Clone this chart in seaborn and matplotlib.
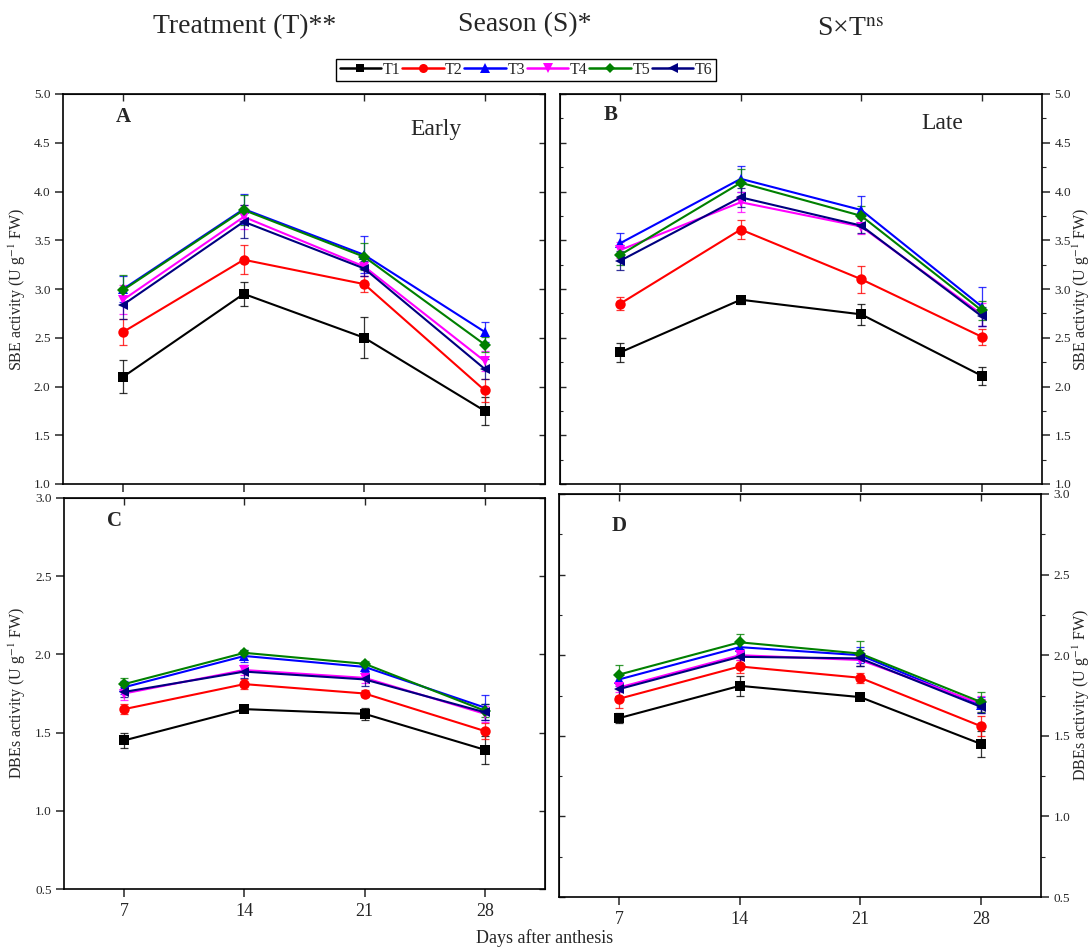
import numpy as np
import pandas as pd
import matplotlib
matplotlib.use("Agg")
import matplotlib.pyplot as plt
import seaborn as sns
from matplotlib.lines import Line2D
from matplotlib.ticker import MultipleLocator

# x values and treatments
days = [7, 14, 21, 28]
treatments = ["T1", "T2", "T3", "T4", "T5", "T6"]

# SBE activity, early season (A); rows = T1..T6, columns = days
sbe_early = [[2.10, 2.95, 2.50, 1.75],
             [2.56, 3.30, 3.05, 1.96],
             [3.00, 3.82, 3.35, 2.56],
             [2.89, 3.74, 3.23, 2.26],
             [2.99, 3.81, 3.33, 2.43],
             [2.84, 3.69, 3.21, 2.18]]
sbe_early_err = [[0.17, 0.12, 0.21, 0.14],
                 [0.13, 0.15, 0.08, 0.12],
                 [0.13, 0.15, 0.19, 0.10],
                 [0.15, 0.12, 0.10, 0.10],
                 [0.15, 0.15, 0.14, 0.08],
                 [0.15, 0.17, 0.08, 0.10]]

# SBE activity, late season (B)
sbe_late = [[2.35, 2.89, 2.74, 2.11],
            [2.85, 3.61, 3.10, 2.51],
            [3.47, 4.13, 3.81, 2.82],
            [3.40, 3.89, 3.64, 2.74],
            [3.35, 4.09, 3.75, 2.78],
            [3.29, 3.94, 3.65, 2.72]]
sbe_late_err = [[0.10, 0.04, 0.11, 0.09],
                [0.07, 0.10, 0.14, 0.08],
                [0.10, 0.13, 0.14, 0.20],
                [0.08, 0.10, 0.08, 0.12],
                [0.10, 0.14, 0.10, 0.10],
                [0.10, 0.10, 0.08, 0.10]]

# DBEs activity, early season (C)
dbe_early = [[1.45, 1.65, 1.62, 1.39],
             [1.65, 1.81, 1.75, 1.51],
             [1.79, 1.99, 1.92, 1.66],
             [1.75, 1.90, 1.85, 1.62],
             [1.81, 2.01, 1.94, 1.64],
             [1.76, 1.89, 1.84, 1.63]]
dbe_early_err = [[0.05, 0.02, 0.04, 0.09],
                 [0.03, 0.03, 0.02, 0.05],
                 [0.04, 0.04, 0.03, 0.08],
                 [0.04, 0.03, 0.03, 0.05],
                 [0.04, 0.02, 0.02, 0.04],
                 [0.03, 0.04, 0.04, 0.05]]

# DBEs activity, late season (D)
dbe_late = [[1.61, 1.81, 1.74, 1.45],
            [1.73, 1.93, 1.86, 1.56],
            [1.85, 2.05, 2.00, 1.69],
            [1.80, 2.00, 1.97, 1.70],
            [1.88, 2.08, 2.01, 1.71],
            [1.79, 1.99, 1.98, 1.68]]
dbe_late_err = [[0.03, 0.06, 0.02, 0.08],
                [0.06, 0.04, 0.03, 0.06],
                [0.04, 0.04, 0.05, 0.05],
                [0.03, 0.03, 0.04, 0.05],
                [0.06, 0.05, 0.08, 0.06],
                [0.04, 0.05, 0.05, 0.04]]

colors = {"T1": "black", "T2": "#ff0000", "T3": "#0000ff",
          "T4": "#ff00ff", "T5": "#008000", "T6": "#000080"}
markers = {"T1": "s", "T2": "o", "T3": "^", "T4": "v", "T5": "D", "T6": "<"}
msize = {"T1": 7, "T2": 7.5, "T3": 7.5, "T4": 7.5, "T5": 6, "T6": 7.5}

panels = {"A": (sbe_early, sbe_early_err), "B": (sbe_late, sbe_late_err),
          "C": (dbe_early, dbe_early_err), "D": (dbe_late, dbe_late_err)}

rows = []
for key, (means, errs) in panels.items():
    for i, t in enumerate(treatments):
        for j, d in enumerate(days):
            rows.append({"panel": key, "treatment": t, "day": d,
                         "value": means[i][j], "err": errs[i][j]})
df = pd.DataFrame(rows)

sns.set_style("ticks")
plt.rcParams["font.family"] = ["Liberation Serif", "DejaVu Serif"]
plt.rcParams["mathtext.fontset"] = "stix"

W, H = 1091, 949
fig = plt.figure(figsize=(W / 100, H / 100), dpi=100)


def box(l, r, t, b):
    return [l / W, 1 - b / H, (r - l) / W, (b - t) / H]


axes = {
    "A": fig.add_axes(box(63, 545, 94, 484)),
    "B": fig.add_axes(box(560, 1042, 94, 484)),
    "C": fig.add_axes(box(64, 545, 498, 889)),
    "D": fig.add_axes(box(559, 1041, 494, 897)),
}
# anchor of the y labels in pixels (left labels grow leftwards, right ones rightwards)
label_x = {"A": 28, "B": 1071, "C": 28, "D": 1071}

sbe_label = "SBE activity (U g$^{-1}$ FW)"
dbe_label = "DBEs activity (U g$^{-1}$ FW)"

for key, ax in axes.items():
    sub = df[df["panel"] == key]
    for t in treatments:
        s = sub[sub["treatment"] == t]
        ax.errorbar(s["day"], s["value"], yerr=s["err"], fmt="none",
                    ecolor=colors[t], elinewidth=0.9, capsize=3,
                    capthick=0.9, zorder=2, alpha=0.8)
    for t in treatments:
        s = sub[sub["treatment"] == t]
        sns.lineplot(data=s, x="day", y="value", color=colors[t],
                     marker=markers[t], markersize=msize[t],
                     markeredgewidth=0, linewidth=1.5, errorbar=None,
                     legend=False, ax=ax, zorder=3)

    ax.set_xlim(3.5, 31.5)
    ax.set_xticks(days)
    ax.set_xlabel("")
    for sp in ax.spines.values():
        sp.set_visible(True)
        sp.set_linewidth(1.2)
        sp.set_color("black")

    top = key in ("A", "B")
    if top:
        ax.set_ylim(1.0, 5.0)
        ax.tick_params(axis="x", labelbottom=False, direction="out", length=6, width=1.1)
    else:
        ax.set_ylim(0.5, 3.0)
        ax.set_xticklabels([str(d) for d in days])
        ax.tick_params(axis="x", labelsize=13, direction="out", length=6, width=1.1, pad=4)
    ax.yaxis.set_major_locator(MultipleLocator(0.5))

    right = key in ("B", "D")
    ax.tick_params(axis="y", which="both", direction="out", labelsize=9.5, pad=3)
    ax.tick_params(axis="y", which="major", length=6, width=1.1)
    ax.tick_params(axis="y", which="minor", length=3, width=0.8)
    if right:
        ax.yaxis.set_minor_locator(MultipleLocator(0.25))
        ax.yaxis.tick_right()
        ax.yaxis.set_label_position("right")
        sec = ax.secondary_yaxis("left")
        sec.yaxis.set_major_locator(MultipleLocator(0.5))
        sec.yaxis.set_minor_locator(MultipleLocator(0.25))
    else:
        sec = ax.secondary_yaxis("right")
        sec.yaxis.set_major_locator(MultipleLocator(0.5))
    sec.tick_params(which="major", direction="in", labelleft=False, labelright=False,
                    length=4, width=1.0)
    sec.tick_params(which="minor", direction="in", length=2.5, width=0.8)
    secx = ax.secondary_xaxis("top")
    secx.set_xticks(days)
    secx.tick_params(direction="in", labeltop=False, length=5, width=1.0)

    ax.set_ylabel(sbe_label if top else dbe_label, fontsize=11.5)
    bb = ax.get_position()
    ax.yaxis.set_label_coords((label_x[key] / W - bb.x0) / bb.width, 0.5)

# panel letters and season labels
axes["A"].text(0.11, 0.94, "A", transform=axes["A"].transAxes, fontsize=15,
               fontweight="bold", va="center")
axes["A"].text(0.72, 0.91, "Early", transform=axes["A"].transAxes, fontsize=17,
               va="center")
axes["B"].text(0.09, 0.945, "B", transform=axes["B"].transAxes, fontsize=15,
               fontweight="bold", va="center")
axes["B"].text(0.75, 0.925, "Late", transform=axes["B"].transAxes, fontsize=17,
               va="center")
axes["C"].text(0.09, 0.94, "C", transform=axes["C"].transAxes, fontsize=15,
               fontweight="bold", va="center")
axes["D"].text(0.11, 0.92, "D", transform=axes["D"].transAxes, fontsize=15,
               fontweight="bold", va="center")

# significance header
fig.text(245 / W, 1 - 27 / H, "Treatment (T)**", ha="center", va="center", fontsize=20)
fig.text(525 / W, 1 - 25 / H, "Season (S)*", ha="center", va="center", fontsize=20)
fig.text(850 / W, 1 - 30 / H, "S×T$^{\\mathrm{ns}}$", ha="center", va="center", fontsize=20)

handles = [Line2D([], [], color=colors[t], marker=markers[t], markersize=msize[t] - 1,
                  markeredgewidth=0, linewidth=1.8) for t in treatments]
fig.legend(handles, treatments, loc="center", bbox_to_anchor=(526 / W, 1 - 70 / H),
           ncol=6, frameon=True, fancybox=False, edgecolor="black", fontsize=11.5,
           handlelength=2.6, handletextpad=0.1, columnspacing=0.1, borderpad=0.2,
           framealpha=1)

fig.text(545 / W, 1 - 938 / H, "Days after anthesis", ha="center", va="center", fontsize=13)

fig.savefig("out.png", dpi=100)
